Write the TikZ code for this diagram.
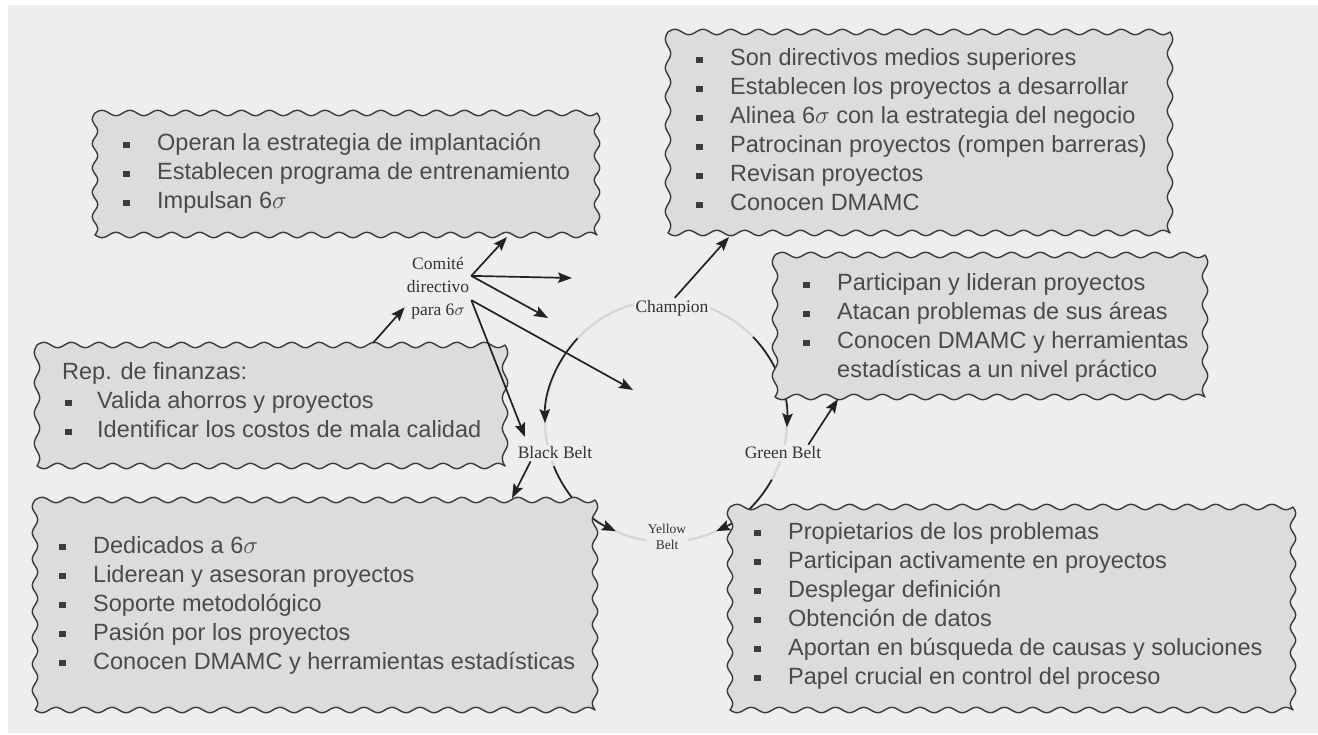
\documentclass[tikz,border=0pt]{standalone}
\usepackage{fontspec}
\usetikzlibrary{arrows.meta,calc}
\newfontfamily\boxfont{Liberation Sans}
\newfontfamily\labfont{Liberation Serif}
\definecolor{panel}{HTML}{EEEEEE}
\definecolor{boxfill}{HTML}{DCDCDC}
\definecolor{boxline}{HTML}{3A3A3A}
\definecolor{txtc}{HTML}{4A4A4A}
\definecolor{bulc}{HTML}{3C3C3C}
\definecolor{arrowc}{HTML}{222222}
\definecolor{ringc}{HTML}{D6D6D6}
\definecolor{labc}{HTML}{333333}
\newcommand\bl{\makebox[34pt][l]{\textcolor{bulc}{\rule[2.8pt]{6.5pt}{6.5pt}}}}
\newcommand\dbl{\makebox[35pt][l]{\hspace*{3pt}\textcolor{bulc}{\rule[2.8pt]{6.5pt}{6.5pt}}}}
% wavy box: x1 y1 x2 y2
\newcommand\wavybox[4]{%
  \pgfmathsetmacro\wbW{#3-#1}%
  \pgfmathsetmacro\wbH{#4-#2}%
  \pgfmathtruncatemacro\wbN{round(\wbW/28)}%
  \pgfmathtruncatemacro\wbM{round(\wbH/27)}%
  \pgfmathtruncatemacro\wbSN{\wbN*12+1}%
  \pgfmathtruncatemacro\wbSM{\wbM*12+1}%
  \path[wbox] plot[domain=0:1, samples=\wbSN] ({#1+\x*\wbW},{#2-2.7*sin(\x*\wbN*360)})
    -- plot[domain=0:1, samples=\wbSM] ({#3+2.7*sin(\x*\wbM*360)},{#2+\x*\wbH})
    -- plot[domain=0:1, samples=\wbSN] ({#3-\x*\wbW},{#4-2.7*sin(\x*\wbN*360)})
    -- plot[domain=0:1, samples=\wbSM] ({#1+2.7*sin(\x*\wbM*360)},{#4-\x*\wbH}) -- cycle;
}
\begin{document}
\begin{tikzpicture}[x=1pt,y=-1pt,
  wbox/.style={draw=boxline, fill=boxfill, line width=1.4pt, line join=round},
  boxtext/.style={anchor=base west, inner sep=0pt, text=txtc,
    font=\boxfont\fontsize{23.5}{29}\selectfont},
  lab/.style={text=labc, font=\labfont\fontsize{17.5}{23}\selectfont, fill=panel, inner sep=2pt},
  arr/.style={draw=arrowc, line width=1.7pt, -{Stealth[length=14pt,width=10.5pt,inset=2.5pt]}},
  arcl/.style={draw=arrowc, line width=1.7pt, -{Stealth[length=14pt,width=10.5pt,inset=2.5pt]}},
  ringl/.style={draw=ringc, line width=2.2pt}
]
\useasboundingbox (0,0) rectangle (1318,735);
\fill[white] (0,0) rectangle (1318,735);
\fill[panel] (8,5) rectangle (1318,733);

% cycle ring
\coordinate (cc) at (666,421);
\draw[ringl] (cc) circle[radius=121];
\draw[arcl] ($(cc)+(-137:121)$) arc[start angle=-137, end angle=-181, radius=121];
\draw[arcl] ($(cc)+(-44:121)$) arc[start angle=-44, end angle=3, radius=121];
\draw[arcl] ($(cc)+(-202:121)$) arc[start angle=-202, end angle=-245.5, radius=121];
\draw[arcl] ($(cc)+(29:121)$) arc[start angle=29, end angle=65.5, radius=121];

% boxes
\wavybox{95}{113}{597}{235}
\wavybox{668}{32}{1170}{233}
\wavybox{775}{255}{1205}{397}
\wavybox{37}{345}{505}{466}
\wavybox{35}{500}{595}{710}
\wavybox{730}{507}{1293}{710}

\node[boxtext] (ta) at (123,151) {\begin{tabular}[t]{@{}l@{}}
\bl Operan la estrategia de implantación\\
\bl Establecen programa de entrenamiento\\
\bl Impulsan 6$\sigma$
\end{tabular}};
\node[boxtext] (tb) at (696,66) {\begin{tabular}[t]{@{}l@{}}
\bl Son directivos medios superiores\\
\bl Establecen los proyectos a desarrollar\\
\bl Alinea 6$\sigma$ con la estrategia del negocio\\
\bl Patrocinan proyectos (rompen barreras)\\
\bl Revisan proyectos\\
\bl Conocen DMAMC
\end{tabular}};
\node[boxtext] (tc) at (803,291) {\begin{tabular}[t]{@{}l@{}}
\bl Participan y lideran proyectos\\
\bl Atacan problemas de sus áreas\\
\bl Conocen DMAMC y herramientas\\
\hspace*{34pt}estadísticas a un nivel práctico
\end{tabular}};
\node[boxtext] (td) at (62,380) {\begin{tabular}[t]{@{}l@{}}
Rep. de finanzas:\\
\dbl Valida ahorros y proyectos\\
\dbl Identificar los costos de mala calidad
\end{tabular}};
\node[boxtext] (te) at (59,553) {\begin{tabular}[t]{@{}l@{}}
\bl Dedicados a 6$\sigma$\\
\bl Liderean y asesoran proyectos\\
\bl Soporte metodológico\\
\bl Pasión por los proyectos\\
\bl Conocen DMAMC y herramientas estadísticas
\end{tabular}};
\node[boxtext] (tf) at (754,539) {\begin{tabular}[t]{@{}l@{}}
\bl Propietarios de los problemas\\
\bl Participan activamente en proyectos\\
\bl Desplegar definición\\
\bl Obtención de datos\\
\bl Aportan en búsqueda de causas y soluciones\\
\bl Papel crucial en control del proceso
\end{tabular}};

% labels
\node[lab, align=center] (com) at (438,288) {Comité\\directivo\\para 6$\sigma$};
\node[lab] (champ) at (672,308) {Champion};
\node[lab] (bb) at (555,453) {Black Belt};
\node[lab] (gb) at (783,453) {Green Belt};
\node[lab, align=center, font=\labfont\fontsize{13.5}{16}\selectfont] (yb) at (667,537) {Yellow\\Belt};

% arrow end points
\coordinate (tA) at (507,237);
\coordinate (t2) at (572,278);
\coordinate (t3) at (548,318);
\coordinate (t4) at (633,390);
\coordinate (t5) at (525,437);
\coordinate (sD) at (373,343);
\coordinate (tB) at (729,237);
\coordinate (tE) at (512,498);
\coordinate (tC) at (838,399);

\draw[arr] (sD) -- (com.210);
\draw[arr] (com.20) -- (tA);
\draw[arr] (com.20) -- (t2);
\draw[arr] (com.20) -- (t3);
\draw[arr] (com.-20) -- (t4);
\draw[arr] (com.-20) -- (t5);
\draw[arr] (champ.75) -- (tB);
\draw[arr] ($(bb.south west)+(15,0)$) -- (tE);
\draw[arr] ($(gb.north east)+(-15,0)$) -- (tC);
\end{tikzpicture}
\end{document}
